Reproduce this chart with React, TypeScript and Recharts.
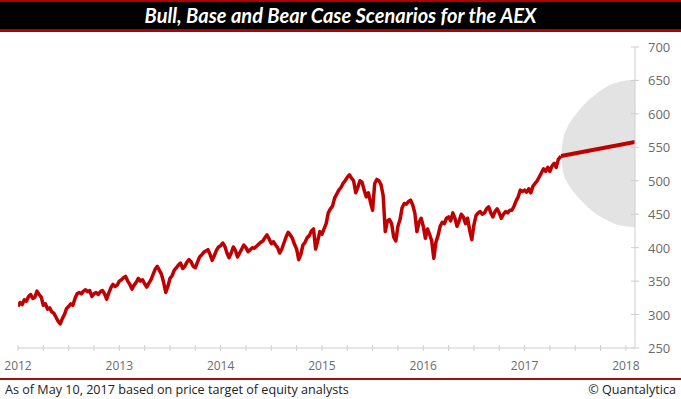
import { ComposedChart, Line, Area, XAxis, YAxis } from 'recharts';

// AEX closes, read roughly weekly off the reference (48 readings per year)
const aex2012 = [
  312, 318, 315, 322, 320, 327, 330, 324, 326, 335, 330, 326,
  314, 316, 308, 310, 304, 302, 296, 290, 286, 294, 300, 309,
  312, 316, 314, 324, 331, 333, 331, 335, 337, 334, 336, 327,
  331, 333, 330, 334, 336, 331, 323, 332, 340, 345, 342, 344,
];
const aex2013 = [
  350, 352, 355, 357, 350, 345, 338, 344, 348, 354, 350, 352,
  346, 341, 347, 352, 360, 368, 372, 366, 360, 348, 333, 342,
  354, 358, 366, 370, 374, 377, 369, 372, 378, 382, 379, 372,
  370, 378, 386, 389, 393, 395, 397, 390, 381, 388, 396, 401,
];
const aex2014 = [
  403, 407, 402, 392, 385, 392, 401, 396, 386, 392, 398, 404,
  400, 394, 397, 400, 399, 402, 405, 408, 410, 415, 419, 413,
  406, 409, 404, 400, 392, 398, 407, 416, 423, 419, 414, 405,
  398, 382, 390, 404, 408, 415, 418, 425, 428, 398, 410, 424,
];
const aex2015 = [
  420, 428, 436, 452, 458, 462, 474, 480, 486, 490, 496, 500,
  505, 509, 504, 500, 482, 490, 500, 498, 486, 476, 482, 468,
  456, 496, 502, 500, 494, 478, 424, 440, 442, 436, 416, 410,
  432, 442, 460, 466, 465, 469, 471, 464, 452, 424, 438, 444,
];
const aex2016 = [
  432, 414, 428, 420, 410, 384, 408, 418, 432, 438, 436, 444,
  446, 440, 452, 444, 432, 440, 450, 446, 436, 444, 426, 412,
  434, 448, 452, 454, 450, 452, 458, 461, 452, 446, 454, 458,
  452, 444, 450, 454, 452, 456, 456, 462, 470, 476, 486, 484,
];
const aex2017 = [486, 483, 488, 482, 492, 496, 500, 506, 512, 518, 514, 520, 514, 522, 526, 520, 532];
const lastDate = 2017.36;
const lastClose = 537;

// scenario cone (bear / bull) and base case target
const coneDates = [2017.36, 2017.38, 2017.42, 2017.47, 2017.52, 2017.6, 2017.7, 2017.8, 2017.9, 2018.0, 2018.09];
const coneUpper = [537, 562, 579, 592, 602, 616, 629, 640, 646, 650, 651];
const coneLower = [537, 514, 498, 486, 477, 464, 451, 442, 435, 432, 431];
const targetDates = [2017.36, 2018.09];
const targetValues = [537, 558];

const yearStarts = [2012, 2013, 2014, 2015, 2016, 2017, 2018];
const yTicks = [250, 300, 350, 400, 450, 500, 550, 600, 650, 700];

const history: { t: number; v: number }[] = [];
[aex2012, aex2013, aex2014, aex2015, aex2016, aex2017].forEach((vals, k) => {
  vals.forEach((v, i) => history.push({ t: yearStarts[k] + i / 48, v }));
});
history.push({ t: lastDate, v: lastClose });

const cone = coneDates.map((t, i) => ({ t, band: [coneLower[i], coneUpper[i]] }));
const target = targetDates.map((t, i) => ({ t, v: targetValues[i] }));

const quarterTicks: number[] = [];
for (let q = 0; q <= 24; q++) quarterTicks.push(2012 + q / 4);

const axisGrey = '#cfcfcf';
const labelGrey = '#6b6b6b';
const font = '"Open Sans", "Noto Sans", sans-serif';

const XTick = (props: any) => {
  const { x, y, payload } = props;
  const isYear = Math.abs(payload.value - Math.round(payload.value)) < 1e-6;
  return (
    <g>
      <line x1={x} x2={x} y1={y - 3} y2={y + 3} stroke={axisGrey} />
      {isYear && (
        <text x={x} y={y + 22} textAnchor="middle" fill={labelGrey} fontSize={12} fontFamily={font}>
          {Math.round(payload.value)}
        </text>
      )}
    </g>
  );
};

const YTick = (props: any) => {
  const { x, y, payload } = props;
  return (
    <g>
      <line x1={x - 4} x2={x + 4} y1={y} y2={y} stroke={axisGrey} />
      <text x={x + 13} y={y + 5} textAnchor="start" fill={labelGrey} fontSize={13} fontFamily={font}>
        {payload.value}
      </text>
    </g>
  );
};

export default function App() {
  return (
    <div style={{ position: 'fixed', left: 0, top: 0, width: 681, height: 399, background: '#fff', fontFamily: font }}>
      <div style={{
        position: 'absolute', left: 0, top: 0, width: 681, height: 27,
        background: '#000', borderTop: '2px solid #b00000', borderBottom: '3px solid #b00000',
        color: '#fff', fontWeight: 700, fontStyle: 'italic', fontSize: 20, lineHeight: '27px',
        textAlign: 'center', fontFamily: 'Lato, sans-serif'
      }}>
        Bull, Base and Bear Case Scenarios for the AEX
      </div>

      <div style={{ position: 'absolute', left: 0, top: 0 }}>
        <ComposedChart width={681} height={399} margin={{ top: 47, right: 0, left: 18, bottom: 21 }}>
          <XAxis
            type="number"
            dataKey="t"
            domain={[2012, 2018.09]}
            ticks={quarterTicks}
            interval={0}
            tick={<XTick />}
            tickLine={false}
            tickSize={0}
            tickMargin={0}
            height={30}
            axisLine={{ stroke: axisGrey }}
            allowDataOverflow
          />
          <YAxis
            orientation="right"
            domain={[250, 700]}
            ticks={yTicks}
            interval={0}
            tick={<YTick />}
            tickLine={false}
            tickSize={0}
            tickMargin={0}
            width={46}
            axisLine={{ stroke: axisGrey }}
          />
          <Area
            data={cone}
            dataKey="band"
            type="monotone"
            stroke="none"
            fill="#e3e3e3"
            fillOpacity={1}
            isAnimationActive={false}
          />
          <Line
            data={history}
            dataKey="v"
            type="linear"
            stroke="#c00000"
            strokeWidth={3.5}
            dot={false}
            strokeLinejoin="round"
            isAnimationActive={false}
          />
          <Line
            data={target}
            dataKey="v"
            type="linear"
            stroke="#c00000"
            strokeWidth={4}
            dot={false}
            isAnimationActive={false}
          />
        </ComposedChart>
      </div>

      <div style={{ position: 'absolute', left: 0, top: 378, width: 681, height: 2, background: '#a01010' }} />
      <div style={{ position: 'absolute', left: 5, top: 381, fontSize: 12.6, color: '#222', lineHeight: '17px' }}>
        As of May 10, 2017 based on price target of equity analysts
      </div>
      <div style={{ position: 'absolute', right: 5, top: 381, fontSize: 12.6, color: '#222', lineHeight: '17px' }}>
        © Quantalytica
      </div>
    </div>
  );
}
